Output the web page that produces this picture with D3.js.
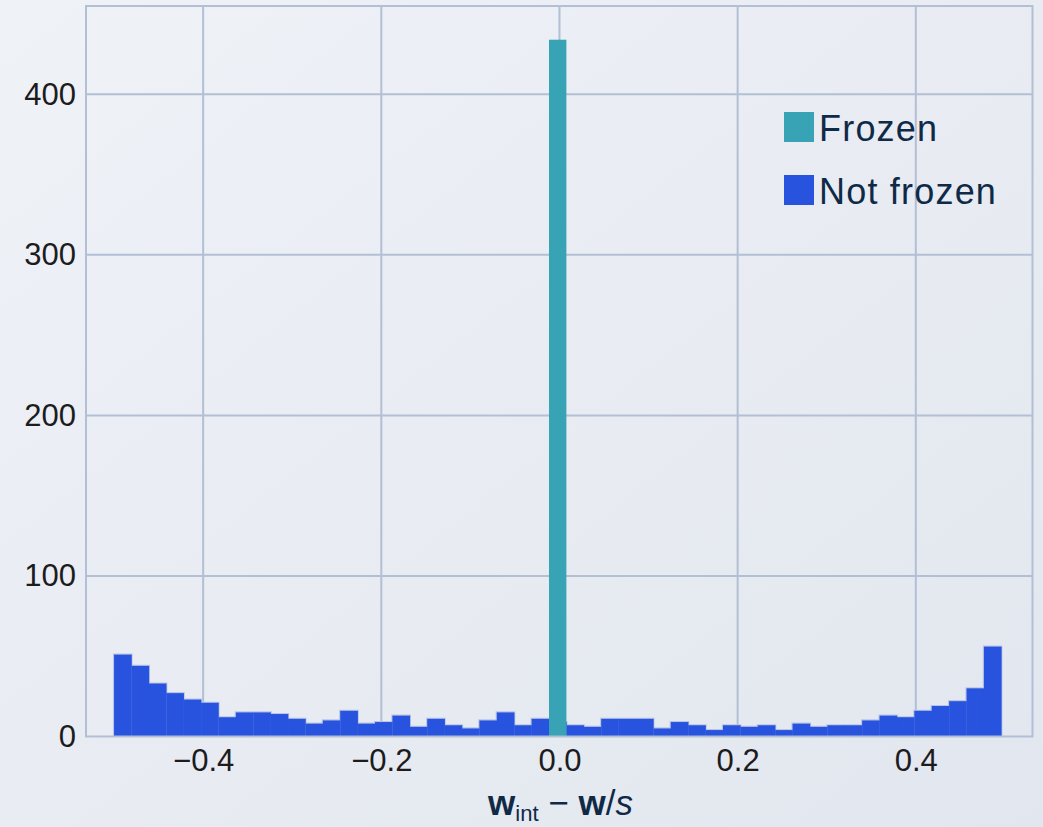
<!DOCTYPE html>
<html>
<head>
<meta charset="utf-8">
<script src="https://cdn.jsdelivr.net/npm/d3@7"></script>
<style>
  html, body { margin: 0; padding: 0; }
  body { width: 1043px; height: 827px; overflow: hidden; }
  text { font-family: "Liberation Sans", Arial, Helvetica, sans-serif; }
</style>
</head>
<body>
<svg id="chart" width="1043" height="827"></svg>
<script>
// Histogram of w_int − w/s: bin range and counts per bin
const binRange = [-0.5, 0.496];
const notFrozenCounts = [
  51, 44, 33, 27, 23, 21, 12, 15, 15, 14,
  11, 8, 10, 16, 8, 9, 13, 6, 11, 7,
  5, 10, 15, 7, 11, 9, 7, 6, 11, 11,
  11, 5, 9, 7, 4, 7, 6, 7, 4, 8,
  6, 7, 7, 10, 13, 12, 16, 19, 22, 30,
  56
];
// Frozen weights all land in the bin that contains zero
const frozenBinIndex = [25];
const frozenCounts = [434];

const xTicks = [-0.4, -0.2, 0.0, 0.2, 0.4];
const yTicks = [100, 200, 300, 400];
const seriesNames = ["Frozen", "Not frozen"];
const seriesColors = ["#37a3b4", "#2753de"];

const W = 1043, H = 827;
const plot = { left: 86, right: 1032.5, top: 6, bottom: 736.5 };

const svg = d3.select("#chart");

// soft diagonal background
const defs = svg.append("defs");
const grad = defs.append("linearGradient")
  .attr("id", "bg").attr("x1", "0").attr("y1", "0").attr("x2", "1").attr("y2", "1");
grad.append("stop").attr("offset", "0%").attr("stop-color", "#eff2f7");
grad.append("stop").attr("offset", "100%").attr("stop-color", "#e2e6ee");
svg.append("rect").attr("width", W).attr("height", H).attr("fill", "url(#bg)");

const x = d3.scaleLinear().domain([-0.5315, 0.531]).range([plot.left, plot.right]);
const y = d3.scaleLinear().domain([0, 455]).range([plot.bottom, plot.top]);

const nBins = notFrozenCounts.length;
const binWidth = (binRange[1] - binRange[0]) / nBins;
const edge = i => binRange[0] + i * binWidth;

const gridColor = "#b2bfd4";

// grid lines
const grid = svg.append("g");
grid.selectAll("line.vx").data(xTicks).join("line")
  .attr("x1", d => x(d)).attr("x2", d => x(d))
  .attr("y1", plot.top).attr("y2", plot.bottom)
  .attr("stroke", gridColor).attr("stroke-width", 2);
grid.selectAll("line.hy").data(yTicks).join("line")
  .attr("x1", plot.left).attr("x2", plot.right)
  .attr("y1", d => y(d)).attr("y2", d => y(d))
  .attr("stroke", gridColor).attr("stroke-width", 2);

// light outline along the top of the not-frozen histogram
const outlinePts = [[edge(0), 0]];
notFrozenCounts.forEach((c, i) => { outlinePts.push([edge(i), c], [edge(i + 1), c]); });
outlinePts.push([edge(nBins), 0]);
svg.append("path")
  .attr("d", d3.line().x(d => x(d[0])).y(d => y(d[1]))(outlinePts))
  .attr("fill", "none").attr("stroke", "#b9c4e6").attr("stroke-width", 2.2);

// not-frozen bars
svg.append("g").selectAll("rect").data(notFrozenCounts).join("rect")
  .attr("x", (d, i) => x(edge(i)))
  .attr("width", (d, i) => x(edge(i + 1)) - x(edge(i)) + 0.3)
  .attr("y", d => y(d))
  .attr("height", d => y(0) - y(d))
  .attr("fill", seriesColors[1]);

// frozen bar
svg.append("g").selectAll("rect").data(frozenCounts).join("rect")
  .attr("x", (d, k) => x(edge(frozenBinIndex[k])))
  .attr("width", (d, k) => x(edge(frozenBinIndex[k] + 1)) - x(edge(frozenBinIndex[k])))
  .attr("y", d => y(d))
  .attr("height", d => y(0) - y(d))
  .attr("fill", seriesColors[0]);

// plot frame
svg.append("rect")
  .attr("x", plot.left).attr("y", plot.top)
  .attr("width", plot.right - plot.left).attr("height", plot.bottom - plot.top)
  .attr("fill", "none").attr("stroke", gridColor).attr("stroke-width", 2);

// axes (labels only, no tick marks)
const fmt = d3.format(".1f");
const xAxis = svg.append("g")
  .attr("transform", `translate(0,${plot.bottom})`)
  .call(d3.axisBottom(x).tickValues(xTicks).tickFormat(fmt).tickSize(0).tickPadding(12));
const yAxis = svg.append("g")
  .attr("transform", `translate(${plot.left},0)`)
  .call(d3.axisLeft(y).tickValues([0].concat(yTicks)).tickSize(0).tickPadding(10));
[xAxis, yAxis].forEach(g => {
  g.select(".domain").remove();
  g.selectAll("text")
    .attr("font-family", "'Liberation Sans', Arial, sans-serif")
    .attr("font-size", 31)
    .attr("fill", "#1c1c1e");
});
xAxis.selectAll("text").attr("dy", "0.72em");

// x-axis title: w_int − w/s
const title = svg.append("text")
  .attr("x", x(0) + 1).attr("y", 815)
  .attr("text-anchor", "middle")
  .attr("font-size", 35)
  .attr("fill", "#0f2a46");
title.append("tspan").attr("font-weight", "bold").text("w");
title.append("tspan").attr("font-size", 22).attr("dy", 6).text("int");
title.append("tspan").attr("dy", -6).text(" − ");
title.append("tspan").attr("font-weight", "bold").text("w");
title.append("tspan").text("/");
title.append("tspan").attr("font-style", "italic").text("s");

// legend
const legend = svg.append("g").attr("transform", "translate(784,112)");
const item = legend.selectAll("g").data(seriesNames).join("g")
  .attr("transform", (d, i) => `translate(0,${i * 63})`);
item.append("rect").attr("width", 30).attr("height", 30)
  .attr("fill", (d, i) => seriesColors[i]);
item.append("text")
  .attr("x", 35).attr("y", 28.5)
  .attr("font-size", 36)
  .attr("letter-spacing", 1.2)
  .attr("fill", "#0f2a46")
  .text(d => d);
</script>
</body>
</html>
